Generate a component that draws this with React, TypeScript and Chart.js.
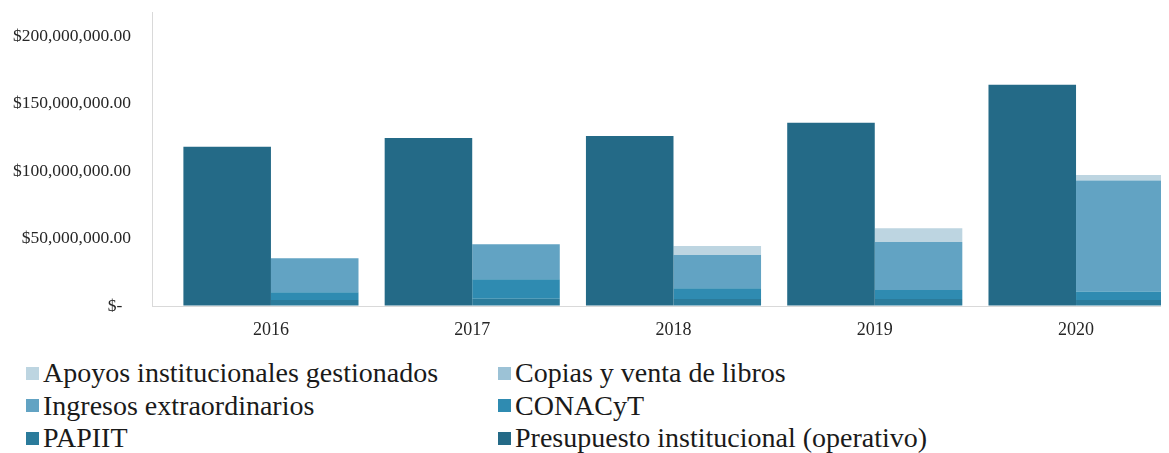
import React, { useEffect, useRef } from "react";
import { Chart, registerables } from "chart.js";

Chart.register(...registerables);

// ---- Data ----
const years = ["2016", "2017", "2018", "2019", "2020"];
const presupuesto = [118000000, 124600000, 126100000, 135800000, 164000000];
const papiit = [4500000, 5400000, 5200000, 5200000, 4500000];
const conacyt = [5700000, 14400000, 7900000, 6700000, 6200000];
const ingresos = [25200000, 26000000, 24700000, 35600000, 82300000];
const copias = [0, 0, 0, 0, 0];
const apoyos = [0, 0, 6700000, 10200000, 4200000];

const yTickValues = [0, 50000000, 100000000, 150000000, 200000000];
const yTickLabels = ["$-  ", "$50,000,000.00", "$100,000,000.00", "$150,000,000.00", "$200,000,000.00"];

const seriesNames = [
  "Apoyos institucionales gestionados",
  "Copias y venta de libros",
  "Ingresos extraordinarios",
  "CONACyT",
  "PAPIIT",
  "Presupuesto institucional (operativo)",
];

const colors: Record<string, string> = {
  "Apoyos institucionales gestionados": "#bdd5e1",
  "Copias y venta de libros": "#9cc2d6",
  "Ingresos extraordinarios": "#62a3c3",
  CONACyT: "#2f8bb1",
  PAPIIT: "#2b7b9b",
  "Presupuesto institucional (operativo)": "#246a87",
};

const FONT = "'Liberation Serif', 'Times New Roman', serif";

export default function App() {
  const canvasRef = useRef<HTMLCanvasElement | null>(null);

  useEffect(() => {
    if (!canvasRef.current) return;
    const toPts = (arr: number[]) => arr.map((v, i) => ({ x: Number(years[i]), y: v }));
    const mk = (name: string, arr: number[], stack: string, order: number) => ({
      label: name,
      data: toPts(arr),
      backgroundColor: colors[name],
      borderWidth: 0,
      stack,
      order,
    });
    const chart = new Chart(canvasRef.current, {
      type: "bar",
      data: {
        datasets: [
          mk("Presupuesto institucional (operativo)", presupuesto, "a", 0),
          mk("PAPIIT", papiit, "b", 1),
          mk("CONACyT", conacyt, "b", 1),
          mk("Ingresos extraordinarios", ingresos, "b", 1),
          mk("Copias y venta de libros", copias, "b", 1),
          mk("Apoyos institucionales gestionados", apoyos, "b", 1),
        ] as any,
      },
      options: {
        animation: false,
        responsive: true,
        maintainAspectRatio: false,
        layout: { padding: { top: 4, right: 4, left: 0, bottom: 0 } },
        datasets: { bar: { categoryPercentage: 0.87, barPercentage: 1.0 } } as any,
        plugins: { legend: { display: false }, tooltip: { enabled: false } },
        scales: {
          x: {
            type: "linear",
            offset: false,
            min: 2015.409,
            max: 2020.442,
            stacked: true,
            grid: { color: "transparent", drawTicks: false },
            border: { display: true, color: "#d9d9d9", width: 1 },
            afterBuildTicks: (scale: any) => {
              scale.ticks = years.map((y) => ({ value: Number(y) }));
            },
            afterFit: (scale: any) => {
              scale.height = 42;
              scale.paddingLeft = 0;
              scale.paddingRight = 0;
            },
            ticks: {
              autoSkip: false,
              maxRotation: 0,
              padding: 13,
              color: "#262626",
              font: { family: FONT, size: 18 },
              callback: (_v: any, i: number) => years[i],
            },
          },
          y: {
            stacked: true,
            min: 0,
            max: 218000000,
            grid: { color: "transparent", drawTicks: false },
            border: { display: true, color: "#d9d9d9", width: 1 },
            afterBuildTicks: (scale: any) => {
              scale.ticks = yTickValues.map((v) => ({ value: v }));
            },
            afterFit: (scale: any) => {
              scale.width = 144;
              scale.paddingTop = 0;
              scale.paddingBottom = 0;
            },
            ticks: {
              padding: 21,
              color: "#262626",
              font: { family: FONT, size: 17.5 },
              callback: (_v: any, i: number) => yTickLabels[i],
            },
          },
        },
      } as any,
    });
    return () => chart.destroy();
  }, []);

  const rows = [
    [seriesNames[0], seriesNames[1]],
    [seriesNames[2], seriesNames[3]],
    [seriesNames[4], seriesNames[5]],
  ];

  return (
    <div style={{ position: "relative", width: 1161, height: 445 }}>
      <div style={{ position: "relative", width: 1161, height: 340 }}>
        <canvas ref={canvasRef} />
      </div>
      <div
        style={{
          position: "absolute",
          left: 18,
          top: 349,
          fontFamily: FONT,
          fontSize: 28,
          color: "#1a1a1a",
        }}
      >
        {rows.map((r, ri) => (
          <div key={ri} style={{ display: "flex", height: 32.5, alignItems: "center" }}>
            {r.map((name) => (
              <div
                key={name}
                style={{ display: "flex", alignItems: "center", width: 472, whiteSpace: "nowrap" }}
              >
                <span
                  style={{
                    display: "inline-block",
                    width: 13,
                    height: 13,
                    background: colors[name],
                    marginRight: 4,
                    flex: "none",
                  }}
                />
                <span style={{ lineHeight: "32px" }}>{name}</span>
              </div>
            ))}
          </div>
        ))}
      </div>
    </div>
  );
}
